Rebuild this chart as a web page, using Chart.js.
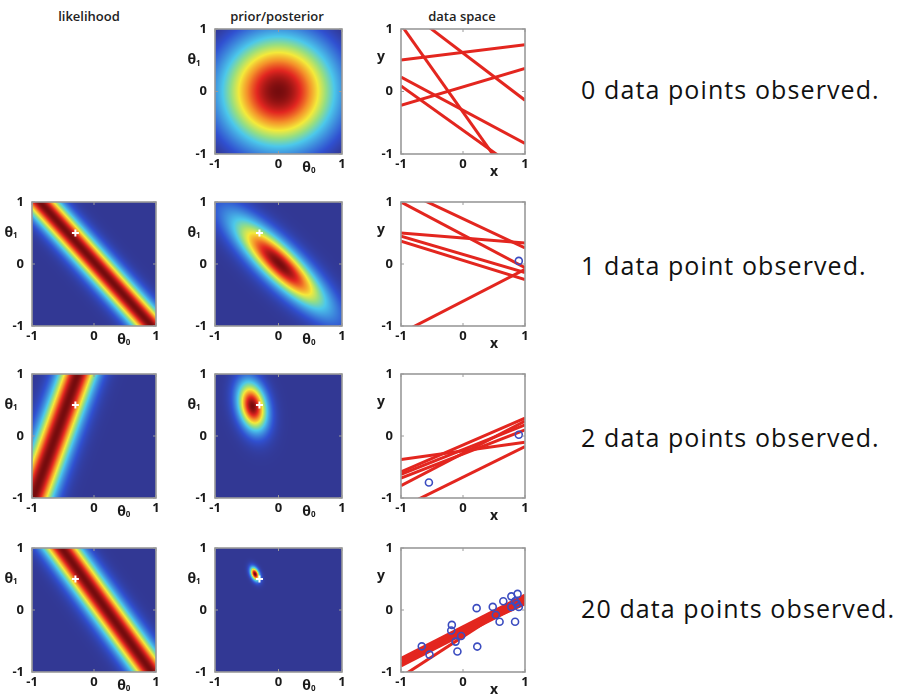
<!DOCTYPE html>
<html>
<head>
<meta charset="utf-8">
<title>Bayesian linear regression: sequential learning</title>
<script src="https://cdn.jsdelivr.net/npm/chart.js@4.4.1/dist/chart.umd.min.js"></script>
<style>
  html, body { margin: 0; padding: 0; background: #fff; }
  body { width: 897px; height: 694px; position: relative; overflow: hidden; font-family: 'Open Sans', sans-serif; }
  canvas.panel { position: absolute; }
  .coltitle { position: absolute; font: 600 13px 'Open Sans', sans-serif; color: #222; transform: translate(-50%, -50%); white-space: nowrap; }
  .caption { position: absolute; font: 400 25px 'Open Sans', sans-serif; letter-spacing: 1.1px; color: #111; transform: translateY(-50%); white-space: nowrap; }
</style>
</head>
<body>
<script>
// ---------- data ----------
const columnTitles = ['likelihood', 'prior/posterior', 'data space'];
const captions = [
  '0 data points observed.',
  '1 data point observed.',
  '2 data points observed.',
  '20 data points observed.'
];
const axisTicks = [-1, 0, 1];

// true parameters (w0, w1), marked with a white cross
const trueW0 = -0.3;
const trueW1 = 0.5;

// likelihood of the most recent observation (rows 2-4): band w0 + x*w1 = t
const likeObsX = [0.9, -0.36, 0.725];
const likeObsT = [0.03, -0.62, 0.205];
const noisePrecision = 20;

// prior (row 1) and posteriors (rows 2-4) over (w0, w1)
const postMean0 = [0.0, 0.02, -0.41, -0.37];
const postMean1 = [0.0, 0.0, 0.48, 0.58];
const postSd0   = [0.707, 0.515, 0.165, 0.053];
const postSd1   = [0.707, 0.515, 0.28, 0.078];
const postCorr  = [0.0, -0.85, -0.25, -0.4];

// sampled regression lines y = w0 + w1*x, one list per row
const lineW0 = [
  [-0.33, 0.615, 0.626, 0.075, -0.30, -0.62],
  [0.73, 0.47, 0.42, 0.155, 0.06, -0.60],
  [-0.24, -0.145, -0.29, -0.28, -0.664, -0.22],
  [-0.27, -0.31, -0.35, -0.39, -0.43, -0.35]
];
const lineW1 = [
  [-1.40, -0.755, 0.121, 0.295, -0.53, -0.71],
  [-0.47, -0.53, -0.08, -0.295, -0.31, 0.516],
  [0.14, 0.435, 0.39, 0.52, 0.494, 0.40],
  [0.51, 0.51, 0.51, 0.51, 0.65, 0.45]
];

// observed data points, one list per row
const obsX = [
  [],
  [0.90],
  [0.90, -0.55],
  [-0.665, -0.54, -0.18, -0.19, -0.03, -0.12, -0.09, 0.22, 0.23, 0.48,
   0.53, 0.59, 0.65, 0.78, 0.88, 0.84, 0.78, 0.90, 0.84, 0.87]
];
const obsY = [
  [],
  [0.05],
  [0.02, -0.75],
  [-0.586, -0.72, -0.24, -0.33, -0.42, -0.51, -0.67, 0.03, -0.59, 0.05,
   -0.08, -0.19, 0.14, 0.22, 0.26, 0.14, 0.05, 0.05, -0.19, 0.10]
];

// ---------- layout ----------
const colBox = [{ L: 32, R: 156 }, { L: 215, R: 342 }, { L: 401, R: 525 }];
const rowBox = [{ T: 29, B: 154 }, { T: 202, B: 326 }, { T: 374, B: 498 }, { T: 548, B: 672 }];
const titleX = [89, 277, 462];
const titleY = 16;
const captionX = 581;
const captionY = [89, 265, 437, 608];
const AXIS_W = 40, AXIS_H = 30, PAD_T = 8, PAD_R = 8;

const tickFont = { family: "'Open Sans', sans-serif", size: 13, weight: 'bold' };
const inkColor = '#1a1a1a';
const frameColor = '#9a9a9a';
const lineColor = '#e3261f';
const pointColor = '#3b4cc0';

// jet-like colour ramp
const rampStops = [
  [0.0, 50, 56, 148],
  [0.125, 48, 80, 208],
  [0.375, 76, 200, 234],
  [0.5, 150, 222, 130],
  [0.625, 244, 234, 58],
  [0.75, 244, 144, 42],
  [0.875, 226, 38, 32],
  [1.0, 118, 12, 14]
];
function ramp(v) {
  v = Math.max(0, Math.min(1, v));
  for (let i = 1; i < rampStops.length; i++) {
    const a = rampStops[i - 1], b = rampStops[i];
    if (v <= b[0]) {
      const f = (v - a[0]) / (b[0] - a[0]);
      return [a[1] + f * (b[1] - a[1]), a[2] + f * (b[2] - a[2]), a[3] + f * (b[3] - a[3])];
    }
  }
  const l = rampStops[rampStops.length - 1];
  return [l[1], l[2], l[3]];
}

// density over the (w0, w1) plane
function bandDensity(x, t, beta) {
  return (w0, w1) => { const d = w0 + x * w1 - t; return Math.exp(-0.5 * beta * d * d); };
}
function gaussDensity(m0, m1, s0, s1, rho) {
  return (w0, w1) => {
    const a = (w0 - m0) / s0, b = (w1 - m1) / s1;
    const z = a * a - 2 * rho * a * b + b * b;
    return Math.exp(-z / (2 * (1 - rho * rho)));
  };
}

// paints a density field into the chart area, cell by cell, through the chart's scales
function heatmapPlugin(density) {
  return {
    id: 'densityField',
    beforeDatasetsDraw(chart) {
      const { ctx, chartArea: a, scales } = chart;
      const w = Math.round(a.right - a.left), h = Math.round(a.bottom - a.top);
      const vals = new Float32Array(w * h);
      let mn = Infinity, mx = -Infinity;
      for (let j = 0; j < h; j++) {
        const w1 = scales.y.getValueForPixel(a.top + j + 0.5);
        for (let i = 0; i < w; i++) {
          const w0 = scales.x.getValueForPixel(a.left + i + 0.5);
          const v = density(w0, w1);
          vals[j * w + i] = v;
          if (v < mn) mn = v;
          if (v > mx) mx = v;
        }
      }
      const off = document.createElement('canvas');
      off.width = w; off.height = h;
      const octx = off.getContext('2d');
      const img = octx.createImageData(w, h);
      const span = (mx - mn) || 1;
      for (let k = 0; k < w * h; k++) {
        const c = ramp((vals[k] - mn) / span);
        img.data[4 * k] = c[0];
        img.data[4 * k + 1] = c[1];
        img.data[4 * k + 2] = c[2];
        img.data[4 * k + 3] = 255;
      }
      octx.putImageData(img, 0, 0);
      ctx.drawImage(off, a.left, a.top, a.right - a.left, a.bottom - a.top);
    }
  };
}

// box around the plot area with small inward tick marks
const framePlugin = {
  id: 'frameBox',
  afterDatasetsDraw(chart) {
    const { ctx, chartArea: a, scales } = chart;
    ctx.save();
    ctx.strokeStyle = frameColor;
    ctx.lineWidth = 1;
    ctx.beginPath();
    axisTicks.forEach(v => {
      const px = scales.x.getPixelForValue(v), py = scales.y.getPixelForValue(v);
      ctx.moveTo(px, a.top); ctx.lineTo(px, a.top + 3);
      ctx.moveTo(px, a.bottom); ctx.lineTo(px, a.bottom - 3);
      ctx.moveTo(a.left, py); ctx.lineTo(a.left + 3, py);
      ctx.moveTo(a.right, py); ctx.lineTo(a.right - 3, py);
    });
    ctx.stroke();
    ctx.lineWidth = 1.6;
    ctx.strokeRect(a.left, a.top, a.right - a.left, a.bottom - a.top);
    ctx.restore();
  }
};

// axis names placed along the axes, with an optional subscript
function axisNamePlugin(names) {
  return {
    id: 'axisNames',
    afterDraw(chart) {
      const { ctx, chartArea: a, scales } = chart;
      const draw = (main, sub, cx, cy) => {
        ctx.font = "bold 14px 'Open Sans', sans-serif";
        const mw = ctx.measureText(main).width;
        ctx.font = "bold 8px 'Open Sans', sans-serif";
        const sw = sub ? ctx.measureText(sub).width : 0;
        const x0 = cx - (mw + sw) / 2;
        ctx.font = "bold 14px 'Open Sans', sans-serif";
        ctx.fillText(main, x0, cy);
        if (sub) {
          ctx.font = "bold 8px 'Open Sans', sans-serif";
          ctx.fillText(sub, x0 + mw, cy + 3);
        }
      };
      ctx.save();
      ctx.fillStyle = inkColor;
      ctx.textAlign = 'left';
      ctx.textBaseline = 'middle';
      draw(names.y, names.ySub, a.left - names.yOff, scales.y.getPixelForValue(names.yAt));
      draw(names.x, names.xSub, scales.x.getPixelForValue(names.xAt), a.bottom + names.xOff);
      ctx.restore();
    }
  };
}

function unitScale(isX) {
  return {
    type: 'linear',
    min: -1,
    max: 1,
    afterBuildTicks: s => { s.ticks = axisTicks.map(v => ({ value: v })); },
    grid: { display: false, drawTicks: false },
    border: { display: false },
    ticks: {
      font: tickFont,
      color: inkColor,
      padding: isX ? 2 : 8,
      maxRotation: 0,
      autoSkip: false,
      callback: v => (v < 0 ? '-' : '') + Math.abs(v)
    },
    afterFit: s => {
      if (isX) { s.height = AXIS_H; s.paddingLeft = 0; s.paddingRight = 0; }
      else { s.width = AXIS_W; s.paddingTop = 0; s.paddingBottom = 0; }
    }
  };
}

function makePanel(row, col, datasets, extraPlugins, names) {
  const c = colBox[col], r = rowBox[row];
  const cw = (c.R - c.L) + AXIS_W + PAD_R;
  const ch = (r.B - r.T) + PAD_T + AXIS_H;
  const cv = document.createElement('canvas');
  cv.className = 'panel';
  cv.width = cw; cv.height = ch;
  cv.style.width = cw + 'px'; cv.style.height = ch + 'px';
  cv.style.left = (c.L - AXIS_W) + 'px';
  cv.style.top = (r.T - PAD_T) + 'px';
  document.body.appendChild(cv);
  return new Chart(cv, {
    type: 'scatter',
    data: { datasets },
    options: {
      responsive: false,
      animation: false,
      events: [],
      layout: { padding: { top: PAD_T, right: PAD_R, left: 0, bottom: 0 } },
      plugins: { legend: { display: false }, tooltip: { enabled: false } },
      scales: { x: unitScale(true), y: unitScale(false) }
    },
    plugins: extraPlugins.concat([framePlugin, axisNamePlugin(names)])
  });
}

const thetaNames = { x: 'θ', xSub: '0', xAt: 0.48, xOff: 14, y: 'θ', ySub: '1', yAt: 0.5, yOff: 21 };
const dataNames = { x: 'x', xSub: '', xAt: 0.5, xOff: 18, y: 'y', ySub: '', yAt: 0.55, yOff: 20 };

function crossDataset() {
  return {
    data: [{ x: trueW0, y: trueW1 }],
    pointStyle: 'cross',
    pointRadius: 3.5,
    borderColor: '#ffffff',
    borderWidth: 2,
    showLine: false,
    clip: 0
  };
}

// column titles
columnTitles.forEach((t, i) => {
  const d = document.createElement('div');
  d.className = 'coltitle';
  d.textContent = t;
  d.style.left = titleX[i] + 'px';
  d.style.top = titleY + 'px';
  document.body.appendChild(d);
});

// captions
captions.forEach((t, i) => {
  const d = document.createElement('div');
  d.className = 'caption';
  d.textContent = t;
  d.style.left = captionX + 'px';
  d.style.top = captionY[i] + 'px';
  document.body.appendChild(d);
});

for (let row = 0; row < 4; row++) {
  // likelihood (rows 2-4)
  if (row > 0) {
    makePanel(row, 0, [crossDataset()],
      [heatmapPlugin(bandDensity(likeObsX[row - 1], likeObsT[row - 1], noisePrecision))], thetaNames);
  }
  // prior / posterior
  makePanel(row, 1, row > 0 ? [crossDataset()] : [],
    [heatmapPlugin(gaussDensity(postMean0[row], postMean1[row], postSd0[row], postSd1[row], postCorr[row]))],
    thetaNames);
  // data space: observed points on top, then the sampled lines
  const ds = [];
  if (obsX[row].length) {
    ds.push({
      data: obsX[row].map((x, i) => ({ x, y: obsY[row][i] })),
      pointStyle: 'circle',
      pointRadius: 3.5,
      borderColor: pointColor,
      backgroundColor: 'rgba(0,0,0,0)',
      borderWidth: 1.6,
      showLine: false,
      clip: 0
    });
  }
  lineW0[row].forEach((w0, i) => {
    const w1 = lineW1[row][i];
    ds.push({
      data: [{ x: -1, y: w0 - w1 }, { x: 1, y: w0 + w1 }],
      showLine: true,
      borderColor: lineColor,
      borderWidth: 3,
      pointRadius: 0,
      clip: 0
    });
  });
  makePanel(row, 2, ds, [], dataNames);
}
</script>
</body>
</html>
